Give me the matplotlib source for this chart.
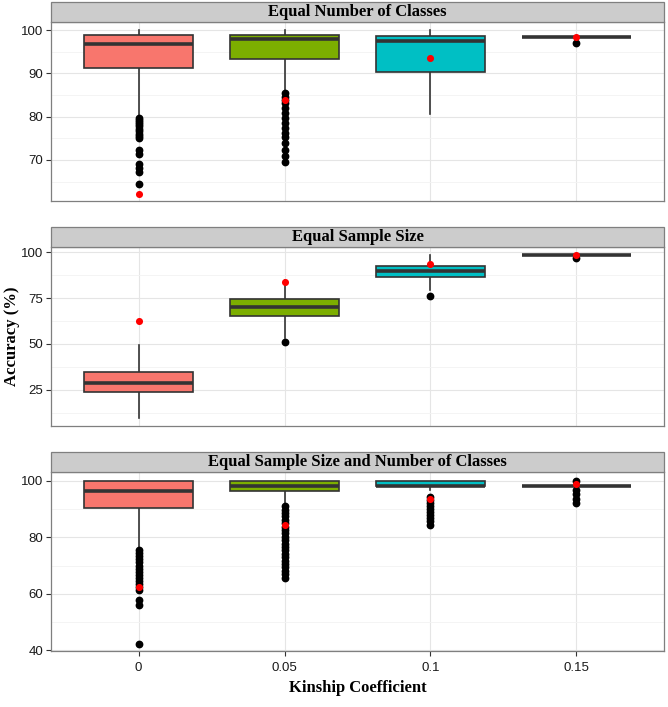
import matplotlib
matplotlib.use('Agg')
import matplotlib.pyplot as plt
from matplotlib.patches import Rectangle

# ---------------- data ----------------
categories = ['0', '0.05', '0.1', '0.15']
panel_titles = ['Equal Number of Classes', 'Equal Sample Size',
                'Equal Sample Size and Number of Classes']
box_colors = ['#F8766D', '#7CAE00', '#00BFC4', '#C77CFF']

# Panel 1: Equal Number of Classes
p1_whislo = [80.0, 85.8, 80.6, 98.5]
p1_q1 = [91.2, 93.4, 90.3, 98.5]
p1_med = [96.7, 97.9, 97.5, 98.5]
p1_q3 = [99.0, 98.9, 98.7, 98.5]
p1_whishi = [100.0, 100.0, 100.0, 98.5]
p1_fliers = [
    [79.8, 79.3, 78.8, 78.3, 77.8, 77.2, 76.6, 76.0, 75.5, 75.1,
     72.3, 71.3, 69.0, 68.2, 67.3, 64.5],
    [85.4, 84.6, 83.9, 83.1, 81.9, 80.8, 79.6, 78.5, 77.3, 76.2,
     75.4, 73.9, 72.4, 70.8, 69.5],
    [],
    [97.0],
]
p1_red = [62.2, 83.8, 93.5, 98.4]

# Panel 2: Equal Sample Size
p2_whislo = [9.6, 53.0, 79.4, 98.5]
p2_q1 = [23.7, 65.4, 86.5, 98.5]
p2_med = [28.5, 70.1, 89.6, 98.5]
p2_q3 = [34.5, 74.7, 92.5, 98.5]
p2_whishi = [49.2, 85.0, 98.5, 98.5]
p2_fliers = [[], [50.9], [76.1], [97.1]]
p2_red = [62.5, 84.0, 93.4, 98.6]

# Panel 3: Equal Sample Size and Number of Classes
p3_whislo = [76.2, 92.2, 96.7, 98.2]
p3_q1 = [90.4, 96.3, 98.0, 98.2]
p3_med = [96.4, 98.2, 98.2, 98.2]
p3_q3 = [100.0, 100.0, 100.0, 98.2]
p3_whishi = [100.0, 100.0, 100.0, 98.2]
p3_fliers = [
    [75.5, 74.4, 73.3, 72.2, 71.1, 70.0, 68.9, 67.8, 66.7, 65.6,
     64.5, 63.4, 62.3, 61.2, 57.8, 56.0, 42.4],
    [91.0, 89.8, 88.6, 87.4, 86.2, 85.0, 83.8, 82.6, 81.4, 80.2,
     79.0, 77.8, 76.6, 75.4, 74.2, 73.0, 71.8, 70.6, 69.4, 68.2,
     67.0, 65.5],
    [94.4, 93.3, 92.2, 91.1, 90.0, 88.9, 87.8, 86.7, 85.6, 84.5],
    [100.0, 96.8, 95.2, 93.6, 92.2],
]
p3_red = [62.6, 84.3, 93.7, 98.7]

panels = [
    (p1_whislo, p1_q1, p1_med, p1_q3, p1_whishi, p1_fliers, p1_red),
    (p2_whislo, p2_q1, p2_med, p2_q3, p2_whishi, p2_fliers, p2_red),
    (p3_whislo, p3_q1, p3_med, p3_q3, p3_whishi, p3_fliers, p3_red),
]
y_major = [[70, 80, 90, 100], [25, 50, 75, 100], [40, 60, 80, 100]]
y_minor = [[65, 75, 85, 95], [12.5, 37.5, 62.5, 87.5], [50, 70, 90]]
y_lims = [(60.5, 101.9), (5.2, 102.7), (39.8, 103.0)]

# ---------------- layout ----------------
W, H = 668, 707
fig = plt.figure(figsize=(W / 100, H / 100), dpi=100)
left_px, right_px = 51, 664
panel_px = [(22, 201), (247.3, 426), (472.3, 651)]
strip_h = 20

sans = 'Liberation Sans'
serif = 'Liberation Serif'
edge = '#333333'

for i, ((wl, q1, md, q3, wh, fl, red), (top, bot)) in enumerate(zip(panels, panel_px)):
    ax = fig.add_axes([left_px / W, 1 - bot / H, (right_px - left_px) / W, (bot - top) / H])
    stats = []
    for k in range(len(categories)):
        stats.append(dict(med=md[k], q1=q1[k], q3=q3[k], whislo=wl[k],
                          whishi=wh[k], fliers=fl[k], label=categories[k]))
    bp = ax.bxp(stats, positions=list(range(len(categories))), widths=0.75,
                patch_artist=True, showcaps=False, manage_ticks=False,
                boxprops=dict(edgecolor=edge, linewidth=1.2),
                whiskerprops=dict(color=edge, linewidth=1.2),
                medianprops=dict(color=edge, linewidth=2.6, solid_capstyle='butt'),
                flierprops=dict(marker='o', markerfacecolor='black',
                                markeredgecolor='black', markersize=4.6))
    for patch, c in zip(bp['boxes'], box_colors):
        patch.set_facecolor(c)
    for b in bp['boxes']:
        b.set_zorder(3)
    for m in bp['medians']:
        m.set_zorder(4)
    for f in bp['fliers']:
        f.set_zorder(5)
    ax.scatter(list(range(len(categories))), red, color='#FF0000', s=26,
               zorder=6, linewidths=0)

    ax.set_xlim(-0.6, 3.6)
    ax.set_ylim(*y_lims[i])
    ax.set_yticks(y_major[i])
    ax.set_yticks(y_minor[i], minor=True)
    ax.set_xticks(range(len(categories)))
    ax.set_axisbelow(True)
    ax.grid(which='major', color='#E5E5E5', linewidth=0.8)
    ax.grid(which='minor', axis='y', color='#F3F3F3', linewidth=0.6)
    ax.tick_params(axis='y', which='minor', length=0)
    ax.tick_params(which='major', direction='out', length=3.8, width=0.8,
                   color=edge, labelsize=9.5, labelcolor='#1a1a1a', pad=2)
    for lab in ax.get_yticklabels():
        lab.set_fontfamily(sans)
    if i < 2:
        ax.tick_params(axis='x', length=0, labelbottom=False)
    else:
        ax.set_xticklabels(categories)
        for lab in ax.get_xticklabels():
            lab.set_fontfamily(sans)
        ax.tick_params(axis='x', pad=4)
    for s in ax.spines.values():
        s.set_color('#7F7F7F')
        s.set_linewidth(0.9)

    hfrac = strip_h / (bot - top)
    ax.add_patch(Rectangle((0, 1), 1, hfrac, transform=ax.transAxes,
                           facecolor='#CCCCCC', edgecolor='#7F7F7F',
                           linewidth=0.9, clip_on=False, zorder=10))
    ax.text(0.5, 1 + hfrac / 2, panel_titles[i], transform=ax.transAxes,
            ha='center', va='center', fontsize=12, fontweight='bold',
            fontfamily=serif, zorder=11)

fig.text(12 / W, 1 - 336 / H, 'Accuracy (%)', rotation=90, ha='center',
         va='center', fontsize=12, fontweight='bold', fontfamily=serif)
fig.text((left_px + right_px) / 2 / W, 1 - 688 / H, 'Kinship Coefficient',
         ha='center', va='center', fontsize=12, fontweight='bold',
         fontfamily=serif)

fig.savefig('out.png', dpi=100)
